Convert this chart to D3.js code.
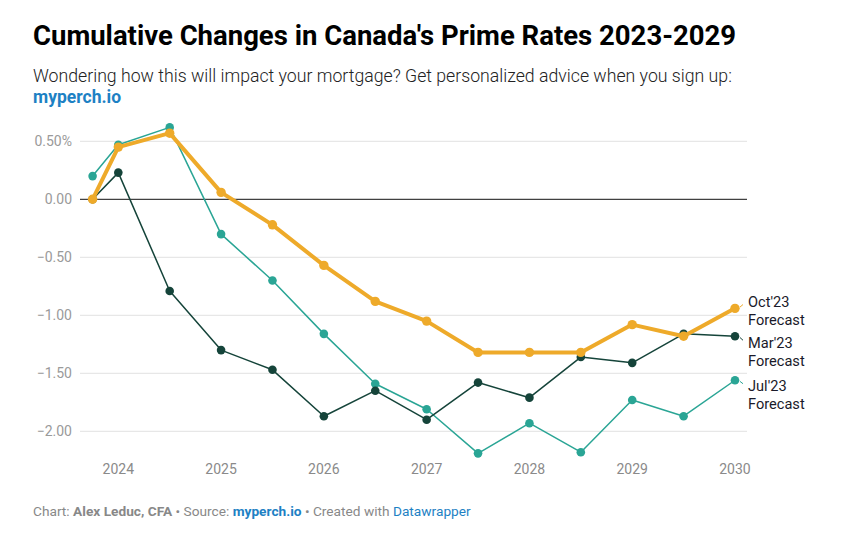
<!DOCTYPE html>
<html>
<head>
<meta charset="utf-8">
<script src="https://d3js.org/d3.v7.min.js"></script>
<style>
  body { margin: 0; background: #fff; font-family: Roboto, sans-serif; }
  svg text { font-family: Roboto, sans-serif; }
</style>
</head>
<body>
<script>
// dates as decimal years
const dates = [2023.75, 2024, 2024.5, 2025, 2025.5, 2026, 2026.5, 2027, 2027.5, 2028, 2028.5, 2029, 2029.5, 2030];
const oct23 = [0.00, 0.45, 0.57, 0.06, -0.22, -0.57, -0.88, -1.05, -1.32, -1.32, -1.32, -1.08, -1.18, -0.94];
const mar23 = [0.00, 0.23, -0.79, -1.30, -1.47, -1.87, -1.65, -1.90, -1.58, -1.71, -1.36, -1.41, -1.16, -1.18];
const jul23 = [0.20, 0.47, 0.62, -0.30, -0.70, -1.16, -1.59, -1.81, -2.19, -1.93, -2.18, -1.73, -1.87, -1.56];
const yTicks = [0.5, 0, -0.5, -1, -1.5, -2];
const xTicks = [2024, 2025, 2026, 2027, 2028, 2029, 2030];

const width = 847, height = 544;
const svg = d3.select("body").append("svg")
    .attr("width", width)
    .attr("height", height);

const x = d3.scaleLinear().domain([2024, 2030]).range([118.3, 735]);
const y = d3.scaleLinear().domain([0, -2]).range([199.3, 431.3]);

// title + subtitle
svg.append("text").attr("x", 33).attr("y", 45)
    .attr("font-size", 27.5).attr("font-weight", 700).attr("fill", "#000")
    .text("Cumulative Changes in Canada's Prime Rates 2023-2029");
svg.append("text").attr("x", 33).attr("y", 82)
    .attr("font-size", 17.7).attr("font-weight", 300).attr("fill", "#222")
    .text("Wondering how this will impact your mortgage? Get personalized advice when you sign up:");
svg.append("text").attr("x", 33).attr("y", 103)
    .attr("font-size", 17.5).attr("font-weight", 700).attr("fill", "#1d81c4")
    .text("myperch.io");

// grid
const grid = svg.append("g");
grid.selectAll("line")
    .data(yTicks.filter(d => d !== 0))
    .enter().append("line")
    .attr("x1", 80).attr("x2", 747)
    .attr("y1", d => y(d)).attr("y2", d => y(d))
    .attr("stroke", "#e2e2e2").attr("stroke-width", 1);

svg.selectAll(".ylab")
    .data(yTicks)
    .enter().append("text")
    .attr("class", "ylab")
    .attr("x", 72).attr("y", d => y(d) + 5)
    .attr("text-anchor", "end")
    .attr("font-size", 14).attr("fill", "#9a9a9a")
    .text(d => d === 0.5 ? "0.50%" : d3.format(".2f")(d).replace("-", "\u2212"));

svg.selectAll(".xlab")
    .data(xTicks)
    .enter().append("text")
    .attr("class", "xlab")
    .attr("x", d => x(d)).attr("y", 474)
    .attr("text-anchor", "middle")
    .attr("font-size", 14).attr("fill", "#8a8a8a")
    .text(d => d);

// zero line
svg.append("line")
    .attr("x1", 80).attr("x2", 747)
    .attr("y1", y(0)).attr("y2", y(0))
    .attr("stroke", "#111").attr("stroke-width", 1);

const series = [
    { name: "Jul'23", vals: jul23, color: "#2aa595", w: 1.5, r: 4.3, labelY: 386 },
    { name: "Mar'23", vals: mar23, color: "#15443a", w: 1.5, r: 4.3, labelY: 343 },
    { name: "Oct'23", vals: oct23, color: "#eeaa2a", w: 4, r: 4.7, labelY: 302 }
];

const line = d3.line().x(d => x(d[0])).y(d => y(d[1]));

series.forEach(s => {
    const pts = dates.map((d, i) => [d, s.vals[i]]);
    const g = svg.append("g");
    g.append("path")
        .datum(pts)
        .attr("d", line)
        .attr("fill", "none")
        .attr("stroke", s.color)
        .attr("stroke-width", s.w)
        .attr("stroke-linejoin", "round");
    g.selectAll("circle")
        .data(pts)
        .enter().append("circle")
        .attr("cx", d => x(d[0])).attr("cy", d => y(d[1]))
        .attr("r", s.r)
        .attr("fill", s.color);

    // connector to label
    const last = pts[pts.length - 1];
    g.append("line")
        .attr("x1", x(last[0]) + 5).attr("y1", y(last[1]) + (s.labelY - y(last[1])) * 0.2)
        .attr("x2", x(last[0]) + 8).attr("y2", y(last[1]) + (s.labelY - y(last[1])) * 0.6)
        .attr("stroke", s.color).attr("stroke-width", 1);

    const t = svg.append("text")
        .attr("x", 748).attr("y", s.labelY + 5)
        .attr("font-size", 14.6).attr("fill", "#1a1a2a");
    t.append("tspan").attr("x", 748).text(s.name);
    t.append("tspan").attr("x", 748).attr("dy", 18).text("Forecast");
});

// footer
const foot = svg.append("text").attr("x", 33).attr("y", 516)
    .attr("font-size", 13.7).attr("fill", "#888");
foot.append("tspan").text("Chart: ");
foot.append("tspan").attr("font-weight", 700).text("Alex Leduc, CFA");
foot.append("tspan").text(" \u2022 Source: ");
foot.append("tspan").attr("font-weight", 700).attr("fill", "#1d81c4").text("myperch.io");
foot.append("tspan").text(" \u2022 Created with ");
foot.append("tspan").attr("fill", "#1d81c4").text("Datawrapper");
</script>
</body>
</html>
